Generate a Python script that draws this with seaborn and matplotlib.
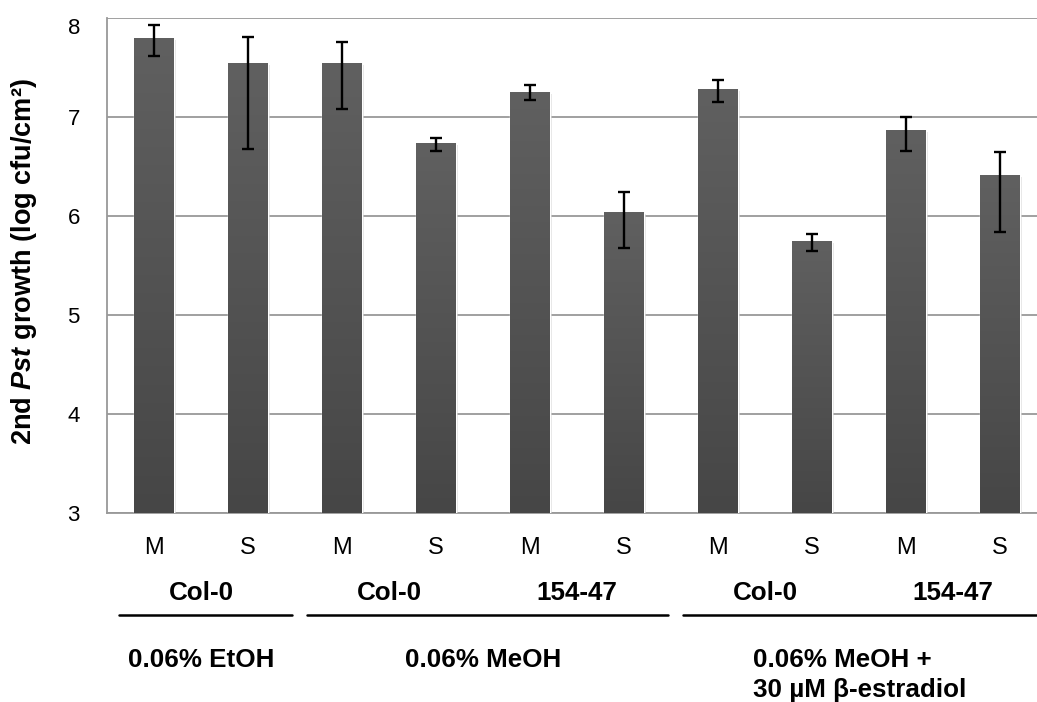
import numpy as np
import pandas as pd
import matplotlib
matplotlib.use("Agg")
import matplotlib.pyplot as plt
import matplotlib.transforms as mtransforms
import matplotlib.patheffects as pe
from matplotlib.colors import LinearSegmentedColormap
import seaborn as sns

# ---- data ----
bars = ["EtOH Col-0 M", "EtOH Col-0 S",
        "MeOH Col-0 M", "MeOH Col-0 S", "MeOH 154-47 M", "MeOH 154-47 S",
        "Estr Col-0 M", "Estr Col-0 S", "Estr 154-47 M", "Estr 154-47 S"]
tick_labels = ["M", "S", "M", "S", "M", "S", "M", "S", "M", "S"]
means = [7.80, 7.55, 7.55, 6.74, 7.25, 6.04, 7.28, 5.75, 6.87, 6.41]
err_hi = [0.13, 0.26, 0.21, 0.05, 0.07, 0.20, 0.09, 0.07, 0.13, 0.24]
err_lo = [0.18, 0.87, 0.47, 0.08, 0.08, 0.36, 0.13, 0.10, 0.21, 0.57]

genotypes = ["Col-0", "Col-0", "154-47", "Col-0", "154-47"]
genotype_bars = [(0, 1), (2, 3), (4, 5), (6, 7), (8, 9)]
treatments = ["0.06% EtOH", "0.06% MeOH", "0.06% MeOH +\n30 µM β-estradiol"]
treatment_bars = [(0, 1), (2, 5), (6, 9)]

df = pd.DataFrame({"bar": bars, "value": means})

# ---- style ----
sns.set_style("white")
plt.rcParams["font.family"] = ["Liberation Sans", "DejaVu Sans"]
plt.rcParams["mathtext.fontset"] = "custom"
plt.rcParams["mathtext.it"] = "Liberation Sans:italic:bold"
plt.rcParams["mathtext.rm"] = "Liberation Sans:bold"
plt.rcParams["text.color"] = "black"
plt.rcParams["axes.labelcolor"] = "black"

fig = plt.figure(figsize=(10.37, 7.02), dpi=100)
ax = fig.add_axes([107 / 1037, (702 - 513) / 702, 940 / 1037, 495 / 702])

sns.barplot(data=df, x="bar", y="value", order=bars, color="#505050",
            width=0.415, errorbar=None, saturation=1, ax=ax, zorder=3)

# gradient fill + soft shadow on every bar
cmap = LinearSegmentedColormap.from_list("g", ["#464646", "#606060"])
grad = np.linspace(0, 1, 256).reshape(-1, 1)
for p in ax.patches:
    x0, w, h = p.get_x(), p.get_width(), p.get_height()
    p.set_path_effects([pe.SimplePatchShadow(offset=(2, -1.5), shadow_rgbFace="#c8c8c8", alpha=0.5),
                        pe.Normal()])
    im = ax.imshow(grad, extent=[x0, x0 + w, 3, h], origin="lower", aspect="auto",
                   cmap=cmap, zorder=3.5)
    im.set_clip_path(p)

ax.errorbar(np.arange(len(bars)), means, yerr=[err_lo, err_hi], fmt="none",
            ecolor="black", elinewidth=1.7, capsize=4.5, capthick=1.7, zorder=5)

ax.set_xlim(-0.5, len(bars) - 0.5)
ax.set_ylim(3, 8)
ax.set_aspect("auto")
ax.set_yticks([3, 4, 5, 6, 7, 8])
ax.yaxis.grid(True, color="#999999", linewidth=1.3, zorder=0)
ax.set_axisbelow(True)

for s in ["top", "right"]:
    ax.spines[s].set_visible(False)
for s in ["left", "bottom"]:
    ax.spines[s].set_color("#999999")
    ax.spines[s].set_linewidth(1.3)

ax.set_xticks(np.arange(len(bars)))
ax.set_xticklabels(tick_labels, fontsize=17)
ax.set_xticks(np.arange(len(bars) + 1) - 0.5, minor=True)
ax.tick_params(axis="x", which="major", length=0, pad=17.5, labelcolor="black")
ax.tick_params(axis="x", which="minor", length=7, width=1.1, color="#999999", direction="out")
ax.tick_params(axis="y", length=6.5, width=1.1, color="#999999", direction="out",
               labelsize=16, pad=13, labelcolor="black")
# top label sits just under the cropped top edge
ax.get_yticklabels()[-1].set_va("top")
ax.set_xlabel("")
ax.set_ylabel("")
fig.text(24 / 1037, (702 - 262) / 702, r"2nd $\mathit{Pst}$ growth (log cfu/cm²)",
         rotation=90, ha="center", va="center", fontsize=19.5, fontweight="bold")

# group annotations under the axis
trans = mtransforms.blended_transform_factory(ax.transData, fig.transFigure)
for name, (a, b) in zip(genotypes, genotype_bars):
    ax.text((a + b) / 2, 1 - 600 / 702, name, transform=trans, ha="center", va="baseline",
            fontsize=18.7, fontweight="bold")

line_y = 1 - 615 / 702
for i, (a, b) in enumerate(treatment_bars):
    x_end = b + 0.47 if i < len(treatment_bars) - 1 else b + 0.8
    ax.plot([a - 0.37, x_end], [line_y, line_y], transform=trans, color="black",
            lw=1.8, clip_on=False)

ax.text(0.5, 1 - 667 / 702, treatments[0], transform=trans, ha="center", va="baseline",
        fontsize=18.7, fontweight="bold")
ax.text(3.5, 1 - 667 / 702, treatments[1], transform=trans, ha="center", va="baseline",
        fontsize=18.7, fontweight="bold")
for k, line in enumerate(treatments[2].split("\n")):
    ax.text(6.37, 1 - (667 + 30 * k) / 702, line, transform=trans, ha="left", va="baseline",
            fontsize=18.7, fontweight="bold")

fig.savefig("out.png", dpi=100)
